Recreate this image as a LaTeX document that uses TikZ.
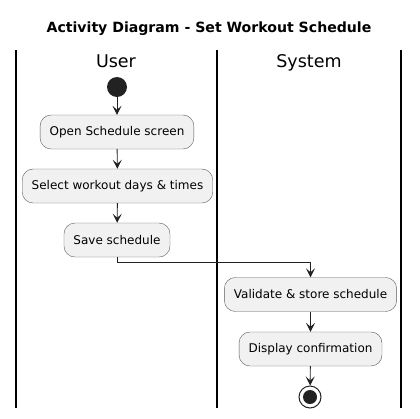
\documentclass[tikz,border=0pt]{standalone}
\usepackage{fontspec}
\setmainfont{DejaVu Sans}
\usetikzlibrary{arrows.meta}

\definecolor{boxfill}{HTML}{F1F1F1}
\definecolor{boxline}{HTML}{5A5A5A}
\definecolor{dot}{HTML}{222222}

\begin{document}
\begin{tikzpicture}[x=1pt, y=-1pt, every node/.style={font=\fontsize{12}{14}\selectfont}]
	\tikzset{act/.style={draw=boxline, fill=boxfill, rounded corners=11pt, minimum height=34pt, inner xsep=9.5pt},
		flow/.style={-{Stealth[length=9pt,width=9pt,inset=4pt]}, line width=0.9pt, draw=dot},
		lane/.style={line width=1.4pt},
		lanehead/.style={font=\fontsize{17.5}{20}\selectfont, anchor=base}}
	\useasboundingbox (0,0) rectangle (420,418);
	\node[font=\fontsize{14.1}{16}\bfseries\selectfont] (title) at (209,29) {Activity Diagram - Set Workout Schedule};
	\draw[lane] (16,50) -- (16,408);
	\draw[lane] (217,50) -- (217,408);
	\draw[lane] (401,50) -- (401,408);
	\node[lanehead] (user) at (116,67.5) {User};
	\node[lanehead] (system) at (309,67.5) {System};
	\node[circle, fill=dot, minimum size=20pt, inner sep=0pt] (start) at (117,87) {};
	\node[act] (open)     at (117,132)   {Open Schedule screen};
	\node[act] (select)   at (117.5,186) {Select workout days \& times};
	\node[act] (save)     at (117,240)   {Save schedule};
	\node[act] (validate) at (310.5,294.5) {Validate \& store schedule};
	\node[act] (confirm)  at (310.5,349) {Display confirmation};
	\node[circle, draw=dot, line width=1pt, minimum size=22pt, inner sep=0pt] (stop) at (310,397) {};
	\node[circle, fill=dot, minimum size=14pt, inner sep=0pt] (stopdot) at (stop) {};
	\draw[flow] (start) -- (open);
	\draw[flow] (open) -- (select);
	\draw[flow] (select) -- (save);
	\draw[flow] (save.south) -- ++(0,5) -| (validate.north);
	\draw[flow] (validate) -- (confirm);
	\draw[flow] (confirm) -- (stop);
\end{tikzpicture}
\end{document}
